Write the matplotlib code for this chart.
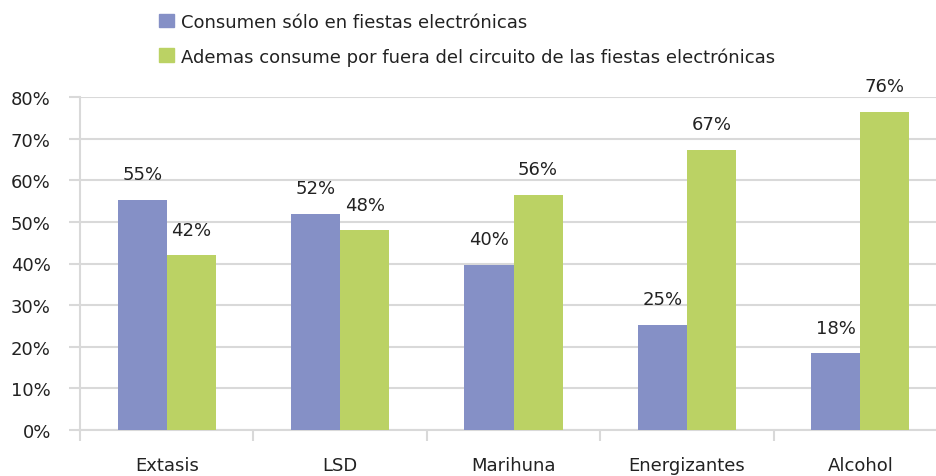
import matplotlib.pyplot as plt
import numpy as np
from matplotlib.patches import Patch
from matplotlib.ticker import PercentFormatter

categorias = ['Extasis', 'LSD', 'Marihuna', 'Energizantes', 'Alcohol']
solo_fiestas = [0.553, 0.52, 0.397, 0.252, 0.184]
ademas_fuera = [0.42, 0.48, 0.565, 0.673, 0.764]
series = ['Consumen sólo en fiestas electrónicas',
          'Ademas consume por fuera del circuito de las fiestas electrónicas']

azul = '#8590C6'
verde = '#BBD264'
gris = '#D9D9D9'

plt.rcParams['font.family'] = ['DejaVu Sans']

fig = plt.figure(figsize=(9.37, 4.77), dpi=100)
ax = fig.add_axes([80 / 937, 46 / 477, 867 / 937, 333 / 477])

x = np.arange(len(categorias))
w = 0.283
b1 = ax.bar(x - w / 2, solo_fiestas, w, color=azul, zorder=3)
b2 = ax.bar(x + w / 2, ademas_fuera, w, color=verde, zorder=3)

for barras, vals in ((b1, solo_fiestas), (b2, ademas_fuera)):
    for b, v in zip(barras, vals):
        ax.annotate(f'{v * 100:.0f}%', (b.get_x() + b.get_width() / 2, v),
                    xytext=(0, 12), textcoords='offset points',
                    ha='center', va='bottom', fontsize=13, color='#222222')

ax.set_xlim(-0.5, len(categorias) - 0.5)
ax.set_ylim(0, 0.8)
ax.set_yticks(np.arange(0, 0.81, 0.1))
ax.yaxis.set_major_formatter(PercentFormatter(1.0, decimals=0))
ax.grid(axis='y', color=gris, linewidth=1.5, zorder=0)

ax.set_xticks(x)
ax.set_xticklabels(categorias)
ax.set_xticks(np.arange(-0.5, len(categorias), 1), minor=True)
ax.tick_params(axis='x', which='major', length=0, pad=19, labelsize=13, labelcolor='#222222')
ax.tick_params(axis='x', which='minor', length=8, width=1.5, color=gris)
ax.tick_params(axis='y', length=8, width=1.5, color=gris, pad=13, labelsize=13, labelcolor='#222222')

for s in ['top', 'right']:
    ax.spines[s].set_visible(False)
for s in ['left', 'bottom']:
    ax.spines[s].set_color(gris)
    ax.spines[s].set_linewidth(1.5)

handles = [Patch(color=azul), Patch(color=verde)]
fig.legend(handles, series, loc='upper left', bbox_to_anchor=(143 / 937, 1.005),
           frameon=False, fontsize=13, handlelength=0.8, handleheight=0.8,
           handletextpad=0.4, labelspacing=0.9, labelcolor='#222222')

fig.savefig('out.png', dpi=100)
